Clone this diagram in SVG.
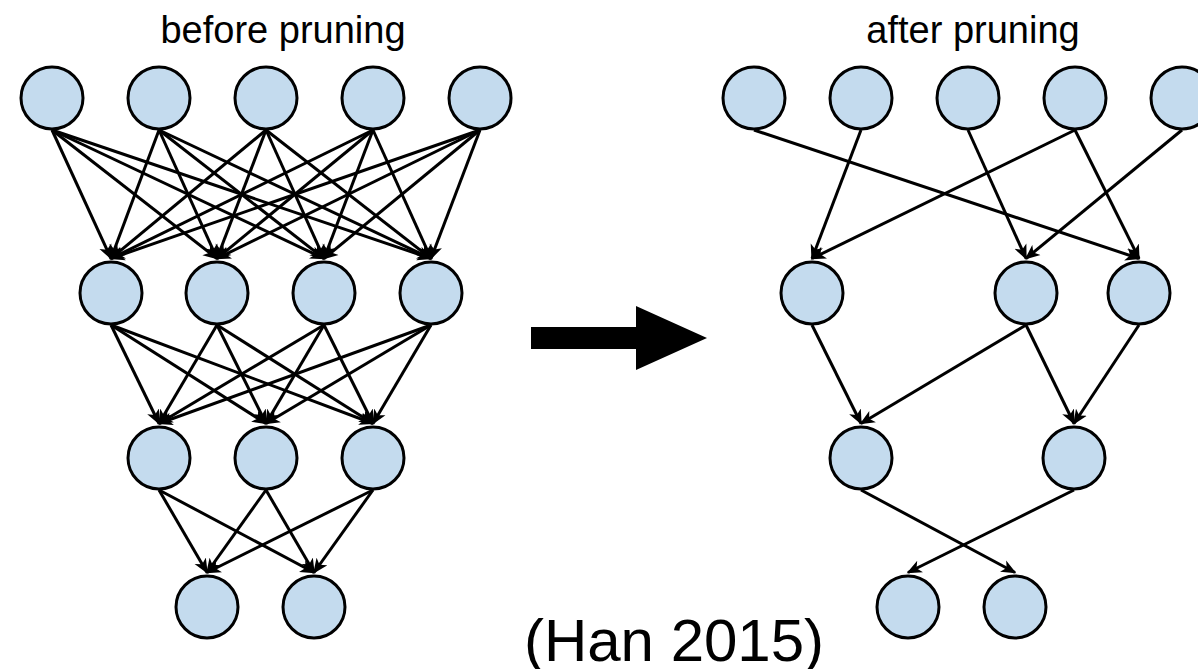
<svg xmlns="http://www.w3.org/2000/svg" width="1198" height="669" viewBox="0 0 1198 669">
  <style>
    .node { fill: #c4dbee; stroke: #000; stroke-width: 3; }
    .edge { stroke: #000; stroke-width: 3; fill: none; marker-end: url(#head); }
    .title { font-family: "Liberation Sans", Arial, sans-serif; fill: #000; text-anchor: middle; }
  </style>
  <defs>
    <marker id="head" viewBox="0 -7 16 14" markerUnits="userSpaceOnUse" markerWidth="16" markerHeight="14" refX="13.5" refY="0" orient="auto">
      <path d="M15,0 L0,-6.5 L4,0 L0,6.5 Z" fill="#000"/>
    </marker>
  </defs>
  <rect width="1198" height="669" fill="#fff"/>

  <!-- captions -->
  <text class="title" x="283" y="43" font-size="38">before pruning</text>
  <text class="title" x="973" y="43" font-size="38">after pruning</text>
  <text class="title" x="674" y="661" font-size="60">(Han 2015)</text>

  <!-- transition arrow -->
  <path id="transition" d="M531,327 H636 V306 L707,338 L636,370 V349 H531 Z" fill="#000"/>

  <g id="connectors">
    <!-- dense net: layer 1 to layer 2 -->
    <line class="edge" x1="52" y1="130" x2="111" y2="258.5"/>
    <line class="edge" x1="52" y1="130" x2="217" y2="258.5"/>
    <line class="edge" x1="52" y1="130" x2="324" y2="258.5"/>
    <line class="edge" x1="52" y1="130" x2="431" y2="258.5"/>
    <line class="edge" x1="159" y1="130" x2="111" y2="258.5"/>
    <line class="edge" x1="159" y1="130" x2="217" y2="258.5"/>
    <line class="edge" x1="159" y1="130" x2="324" y2="258.5"/>
    <line class="edge" x1="159" y1="130" x2="431" y2="258.5"/>
    <line class="edge" x1="266" y1="130" x2="111" y2="258.5"/>
    <line class="edge" x1="266" y1="130" x2="217" y2="258.5"/>
    <line class="edge" x1="266" y1="130" x2="324" y2="258.5"/>
    <line class="edge" x1="266" y1="130" x2="431" y2="258.5"/>
    <line class="edge" x1="373" y1="130" x2="111" y2="258.5"/>
    <line class="edge" x1="373" y1="130" x2="217" y2="258.5"/>
    <line class="edge" x1="373" y1="130" x2="324" y2="258.5"/>
    <line class="edge" x1="373" y1="130" x2="431" y2="258.5"/>
    <line class="edge" x1="480" y1="130" x2="111" y2="258.5"/>
    <line class="edge" x1="480" y1="130" x2="217" y2="258.5"/>
    <line class="edge" x1="480" y1="130" x2="324" y2="258.5"/>
    <line class="edge" x1="480" y1="130" x2="431" y2="258.5"/>
    <!-- dense net: layer 2 to layer 3 -->
    <line class="edge" x1="111" y1="325" x2="159" y2="423.5"/>
    <line class="edge" x1="111" y1="325" x2="266" y2="423.5"/>
    <line class="edge" x1="111" y1="325" x2="373" y2="423.5"/>
    <line class="edge" x1="217" y1="325" x2="159" y2="423.5"/>
    <line class="edge" x1="217" y1="325" x2="266" y2="423.5"/>
    <line class="edge" x1="217" y1="325" x2="373" y2="423.5"/>
    <line class="edge" x1="324" y1="325" x2="159" y2="423.5"/>
    <line class="edge" x1="324" y1="325" x2="266" y2="423.5"/>
    <line class="edge" x1="324" y1="325" x2="373" y2="423.5"/>
    <line class="edge" x1="431" y1="325" x2="159" y2="423.5"/>
    <line class="edge" x1="431" y1="325" x2="266" y2="423.5"/>
    <line class="edge" x1="431" y1="325" x2="373" y2="423.5"/>
    <!-- dense net: layer 3 to layer 4 -->
    <line class="edge" x1="159" y1="490" x2="207" y2="572.5"/>
    <line class="edge" x1="159" y1="490" x2="314" y2="572.5"/>
    <line class="edge" x1="266" y1="490" x2="207" y2="572.5"/>
    <line class="edge" x1="266" y1="490" x2="314" y2="572.5"/>
    <line class="edge" x1="373" y1="490" x2="207" y2="572.5"/>
    <line class="edge" x1="373" y1="490" x2="314" y2="572.5"/>

    <!-- sparse net: layer 1 to layer 2 -->
    <line class="edge" x1="754" y1="130" x2="1139" y2="258.5"/>
    <line class="edge" x1="861" y1="130" x2="812" y2="258.5"/>
    <line class="edge" x1="968" y1="130" x2="1026" y2="258.5"/>
    <line class="edge" x1="1075" y1="130" x2="812" y2="258.5"/>
    <line class="edge" x1="1075" y1="130" x2="1139" y2="258.5"/>
    <line class="edge" x1="1182" y1="130" x2="1026" y2="258.5"/>
    <!-- sparse net: layer 2 to layer 3 -->
    <line class="edge" x1="812" y1="325" x2="861" y2="423.5"/>
    <line class="edge" x1="1026" y1="325" x2="861" y2="423.5"/>
    <line class="edge" x1="1026" y1="325" x2="1074" y2="423.5"/>
    <line class="edge" x1="1139" y1="325" x2="1074" y2="423.5"/>
    <!-- sparse net: layer 3 to layer 4 -->
    <line class="edge" x1="861" y1="490" x2="1015" y2="572.5"/>
    <line class="edge" x1="1074" y1="490" x2="908" y2="572.5"/>
  </g>

  <!-- dense network nodes -->
  <g id="b-l1-n1"><circle class="node" cx="52" cy="98" r="31"/></g>
  <g id="b-l1-n2"><circle class="node" cx="159" cy="98" r="31"/></g>
  <g id="b-l1-n3"><circle class="node" cx="266" cy="98" r="31"/></g>
  <g id="b-l1-n4"><circle class="node" cx="373" cy="98" r="31"/></g>
  <g id="b-l1-n5"><circle class="node" cx="480" cy="98" r="31"/></g>
  <g id="b-l2-n1"><circle class="node" cx="111" cy="293" r="31"/></g>
  <g id="b-l2-n2"><circle class="node" cx="217" cy="293" r="31"/></g>
  <g id="b-l2-n3"><circle class="node" cx="324" cy="293" r="31"/></g>
  <g id="b-l2-n4"><circle class="node" cx="431" cy="293" r="31"/></g>
  <g id="b-l3-n1"><circle class="node" cx="159" cy="458" r="31"/></g>
  <g id="b-l3-n2"><circle class="node" cx="266" cy="458" r="31"/></g>
  <g id="b-l3-n3"><circle class="node" cx="373" cy="458" r="31"/></g>
  <g id="b-l4-n1"><circle class="node" cx="207" cy="607" r="31"/></g>
  <g id="b-l4-n2"><circle class="node" cx="314" cy="607" r="31"/></g>

  <!-- sparse network nodes -->
  <g id="a-l1-n1"><circle class="node" cx="754" cy="98" r="31"/></g>
  <g id="a-l1-n2"><circle class="node" cx="861" cy="98" r="31"/></g>
  <g id="a-l1-n3"><circle class="node" cx="968" cy="98" r="31"/></g>
  <g id="a-l1-n4"><circle class="node" cx="1075" cy="98" r="31"/></g>
  <g id="a-l1-n5"><circle class="node" cx="1182" cy="98" r="31"/></g>
  <g id="a-l2-n1"><circle class="node" cx="812" cy="293" r="31"/></g>
  <g id="a-l2-n2"><circle class="node" cx="1026" cy="293" r="31"/></g>
  <g id="a-l2-n3"><circle class="node" cx="1139" cy="293" r="31"/></g>
  <g id="a-l3-n1"><circle class="node" cx="861" cy="458" r="31"/></g>
  <g id="a-l3-n2"><circle class="node" cx="1074" cy="458" r="31"/></g>
  <g id="a-l4-n1"><circle class="node" cx="908" cy="607" r="31"/></g>
  <g id="a-l4-n2"><circle class="node" cx="1015" cy="607" r="31"/></g>
</svg>
